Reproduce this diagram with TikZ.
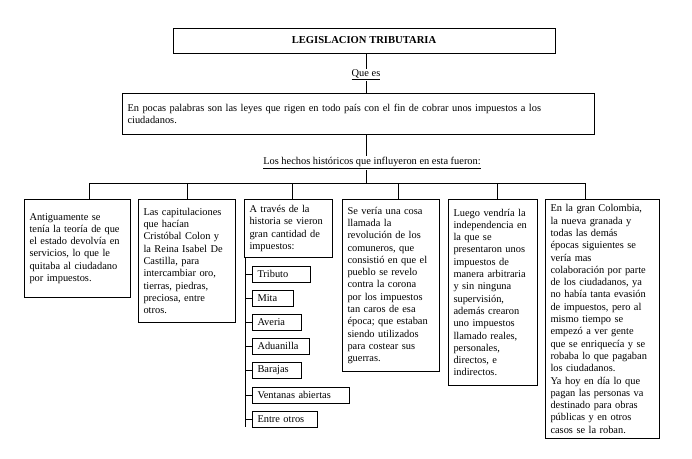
\documentclass[tikz,border=0pt]{standalone}
\usepackage{fontspec}
\setmainfont{Liberation Serif}
\begin{document}
\begin{tikzpicture}[x=1pt,y=-1pt,
  every node/.style={font=\fontsize{10.4}{12.3}\selectfont},
  box/.style={draw,line width=1pt,anchor=north west,align=left,inner xsep=5pt,inner ysep=4.5pt},
  item/.style={draw,line width=1pt,anchor=west,inner xsep=5pt,inner ysep=0pt,minimum height=16pt,align=left},
  conn/.style={line width=1pt}]
\useasboundingbox (0,0) rectangle (692,458);
\fill[white] (0,0) rectangle (692,458);
% title
\node[draw,line width=1pt,minimum width=382pt,minimum height=25pt,anchor=north west] (title) at (173,28) {};
\node[font=\fontsize{10.6}{12}\selectfont\bfseries] (titletext) at (364,40.5) {LEGISLACION TRIBUTARIA};
\node[inner sep=1pt] (quees) at (366,75) {\underline{Que es}};
\node[box,text width=462pt,minimum height=41pt] (desc) at (122,93)
  {En pocas palabras son las leyes que rigen en todo país con el fin de cobrar unos impuestos a los\\ciudadanos.};
\node[inner sep=1pt] (hechos) at (372,163) {\underline{Los hechos históricos que influyeron en esta fueron:}};
\coordinate (barL) at (89,183);
\coordinate (barR) at (585,183);
\coordinate (bar) at (366,183);
% boxes
\node[box,text width=96pt,minimum height=98pt] (b1) at (24,199)
  {Antiguamente se\\tenía la teoría de que\\el estado devolvía en\\servicios, lo que le\\quitaba al ciudadano\\por impuestos.};
\node[box,text width=87pt,minimum height=123pt] (b2) at (138,199)
  {Las capitulaciones\\que hacían\\Cristóbal Colon y\\la Reina Isabel De\\Castilla, para\\intercambiar oro,\\tierras, piedras,\\preciosa, entre\\otros.};
\node[box,text width=78pt,minimum height=58pt] (b3) at (244,199)
  {A través de la\\historia se vieron\\gran cantidad de\\impuestos:};
\node[box,text width=87pt,minimum height=172pt] (b4) at (342,199)
  {Se vería una cosa\\llamada la\\revolución de los\\comuneros, que\\consistió en que el\\pueblo se revelo\\contra la corona\\por los impuestos\\tan caros de esa\\época; que estaban\\siendo utilizados\\para costear sus\\guerras.};
\node[box,text width=79pt,minimum height=186pt] (b5) at (448,199)
  {Luego vendría la\\independencia en\\la que se\\presentaron unos\\impuestos de\\manera arbitraria\\y sin ninguna\\supervisión,\\además crearon\\uno impuestos\\llamado reales,\\personales,\\directos, e\\indirectos.};
\node[box,text width=104pt,minimum height=239pt] (b6) at (545,199)
  {En la gran Colombia,\\la nueva granada y\\todas las demás\\épocas siguientes se\\vería mas\\colaboración por parte\\de los ciudadanos, ya\\no había tanta evasión\\de impuestos, pero al\\mismo tiempo se\\empezó a ver gente\\que se enriquecía y se\\robaba lo que pagaban\\los ciudadanos.\\Ya hoy en día lo que\\pagan las personas va\\destinado para obras\\públicas y en otros\\casos se la roban.};
% items
\node[item,text width=48pt] (i1) at (252,274) {Tributo};
\node[item,text width=31pt] (i2) at (252,298) {Mita};
\node[item,text width=39pt] (i3) at (252,322) {Averia};
\node[item,text width=47pt] (i4) at (252,346) {Aduanilla};
\node[item,text width=39pt] (i5) at (252,370) {Barajas};
\node[item,text width=87pt] (i6) at (252,395) {Ventanas abiertas};
\node[item,text width=55pt] (i7) at (252,419) {Entre otros};
\coordinate (spinetop) at (245,257);
\coordinate (spineend) at (245,427);
% connectors
\draw[conn] (quees.north) -- (quees.north |- title.south);
\draw[conn] (quees.south) -- (quees.south |- desc.north);
\draw[conn] (desc.south -| quees) -- (hechos.north -| quees);
\draw[conn] (hechos.south -| quees) -- (bar);
\draw[conn] (barL) -- (barR);
\draw[conn] (barL) -- (barL |- b1.north);
\draw[conn] (barL -| 187,0) -- (b2.north -| 187,0);
\draw[conn] (barL -| 292,0) -- (b3.north -| 292,0);
\draw[conn] (barL -| 398,0) -- (b4.north -| 398,0);
\draw[conn] (barL -| 497,0) -- (b5.north -| 497,0);
\draw[conn] (barR) -- (barR |- b6.north);
\draw[conn] (spinetop) -- (spineend);
\foreach \i in {1,...,7} \draw[conn] (spinetop |- i\i.west) -- (i\i.west);
\end{tikzpicture}
\end{document}
